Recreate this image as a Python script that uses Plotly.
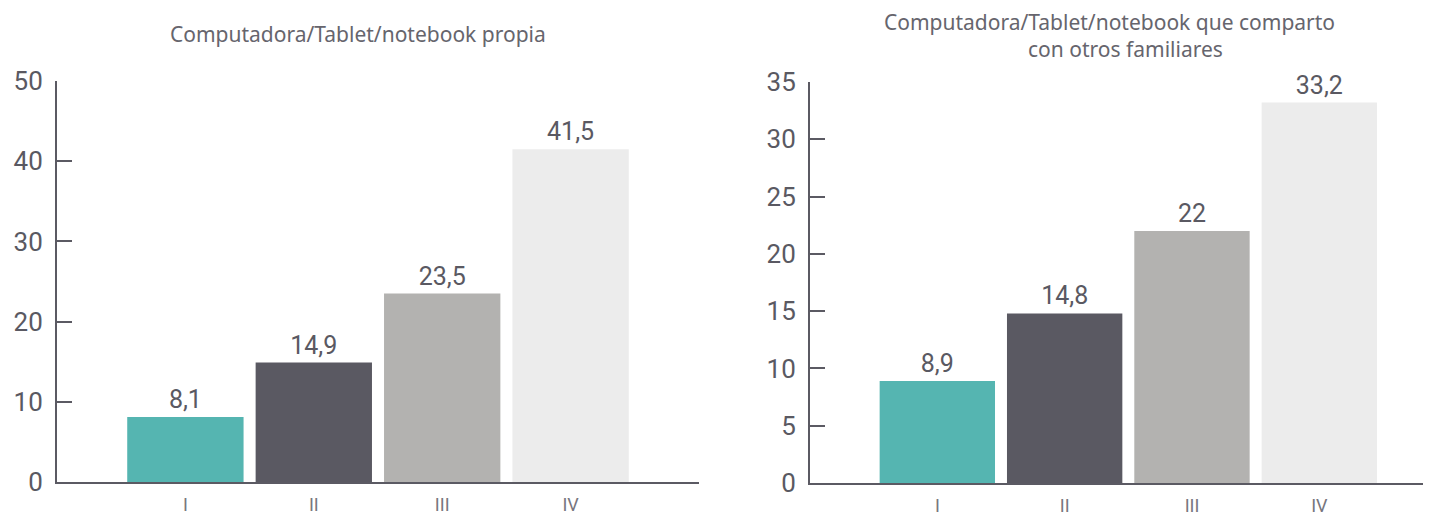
import plotly.graph_objects as go

categories = ["I", "II", "III", "IV"]
propia = [8.1, 14.9, 23.5, 41.5]
compartida = [8.9, 14.8, 22, 33.2]
bar_colors = ["#55b5b1", "#5a5962", "#b3b2b0", "#ececec"]

title_left = "Computadora/Tablet/notebook propia"
title_right_1 = "Computadora/Tablet/notebook que comparto"
title_right_2 = "con otros familiares"

TEXT = "#5a5962"
AXIS = "#5b5a63"
W, H = 1431, 515
OFF = 8  # page body margin


def fmt(v):
    s = f"{v:g}"
    return s.replace(".", ",")


def px_x(x):
    return (x - OFF) / W


def px_y(y):
    return (H - (y - OFF)) / H


fig = go.Figure()
fig.add_trace(go.Bar(
    x=categories, y=propia, xaxis="x", yaxis="y",
    marker=dict(color=bar_colors, line_width=0),
    text=[fmt(v) for v in propia], textposition="outside",
    textfont=dict(family="Roboto", size=25, color=TEXT),
    cliponaxis=False, showlegend=False,
))
fig.add_trace(go.Bar(
    x=categories, y=compartida, xaxis="x2", yaxis="y2",
    marker=dict(color=bar_colors, line_width=0),
    text=[fmt(v) for v in compartida], textposition="outside",
    textfont=dict(family="Roboto", size=25, color=TEXT),
    cliponaxis=False, showlegend=False,
))

xcommon = dict(
    showgrid=False, zeroline=False, showline=True, linecolor=AXIS, linewidth=2,
    ticks="", tickfont=dict(family="Roboto", size=18, color="#77767e"),
    ticklabelstandoff=5, automargin=False,
)
ycommon = dict(
    showgrid=False, zeroline=False, showline=True, linecolor=AXIS, linewidth=2,
    ticks="inside", ticklen=15, tickwidth=2, tickcolor=AXIS,
    tickfont=dict(family="Roboto", size=26, color=TEXT),
    ticklabelstandoff=7, automargin=False,
)

fig.update_layout(
    width=W, height=H,
    margin=dict(l=0, r=0, t=0, b=0),
    paper_bgcolor="white", plot_bgcolor="white",
    bargap=0.094,
    xaxis=dict(domain=[px_x(57), px_x(699)], range=[-1, 4], anchor="y", **xcommon),
    yaxis=dict(domain=[px_y(482), px_y(81)], range=[0, 50], dtick=10,
               anchor="x", **ycommon),
    xaxis2=dict(domain=[px_x(810), 1], range=[-1, 3.94], anchor="y2", **xcommon),
    yaxis2=dict(domain=[px_y(483), px_y(82)], range=[0, 35], dtick=5,
                anchor="x2", **ycommon),
    annotations=[
        dict(text=title_left, x=px_x(358), y=px_y(34)),
        dict(text=title_right_1, x=px_x(1109), y=px_y(22)),
        dict(text=title_right_2, x=px_x(1125), y=px_y(49)),
    ],
)
fig.update_annotations(
    xref="paper", yref="paper", xanchor="center", yanchor="middle",
    showarrow=False, font=dict(family="Noto Sans", size=21, color="#66656d"),
)

fig.write_html("out.html")
